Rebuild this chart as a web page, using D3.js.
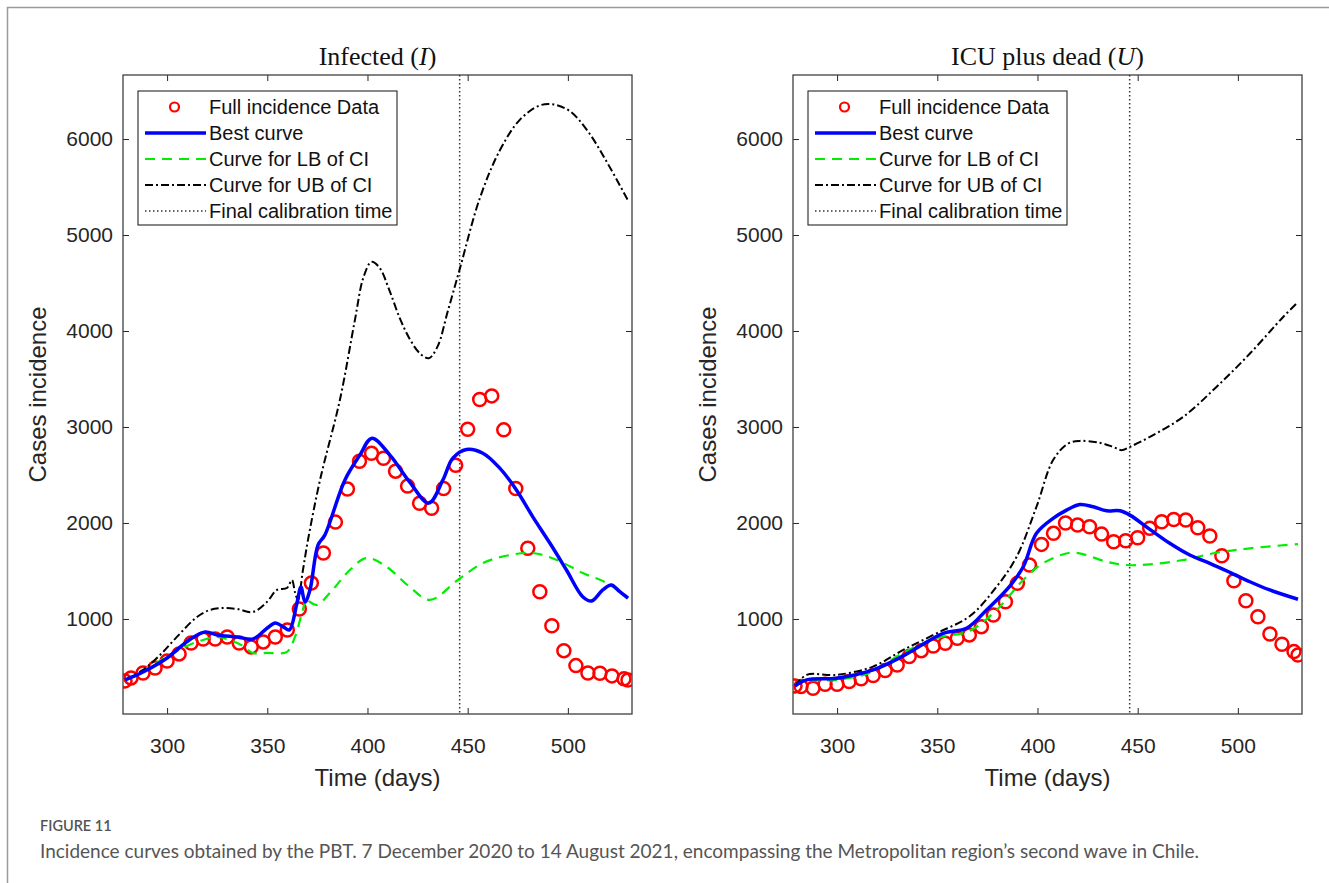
<!DOCTYPE html>
<html>
<head>
<meta charset="utf-8">
<script src="https://cdn.jsdelivr.net/npm/d3@7/dist/d3.min.js"></script>
<style>
  html, body { margin: 0; padding: 0; background: #fff; }
  svg { display: block; }
</style>
</head>
<body>
<svg id="chart" width="1329" height="883"></svg>
<script>
// ---------------- DATA ----------------
const dataDays = [279, 282, 288, 294, 300, 306, 312, 318, 324, 330, 336, 342, 348, 354, 360, 366, 372, 378, 384, 390, 396, 402, 408, 414, 420, 426, 432, 438, 444, 450, 456, 462, 468, 474, 480, 486, 492, 498, 504, 510, 516, 522, 528, 530];

const infectedData = [355, 386, 438, 490, 563, 636, 750, 792, 792, 813, 750, 709, 761, 813, 886, 1104, 1375, 1687, 2009, 2353, 2644, 2727, 2675, 2540, 2384, 2205, 2153, 2360, 2602, 2977, 3286, 3324, 2970, 2360, 1736, 1284, 930, 670, 514, 438, 435, 407, 376, 365];

const icuData = [303, 296, 279, 320, 320, 348, 376, 410, 462, 521, 608, 670, 719, 747, 799, 834, 920, 1042, 1180, 1371, 1562, 1777, 1892, 1999, 1978, 1960, 1884, 1804, 1815, 1846, 1944, 2013, 2037, 2030, 1950, 1864, 1659, 1399, 1190, 1024, 844, 737, 660, 625];

// curves: [day, value]
const infBest = [[279,365],[288,448],[300,594],[311,781],[319,865],[325,834],[335,813],[343,792],[350,906],[354,958],[358,917],[361,886],[364.8,1166],[366.8,1333],[368.8,1177],[371.3,1302],[375.3,1770],[378.7,1874],[388.7,2446],[396.2,2707],[402.2,2883],[411.2,2707],[421.1,2426],[430.6,2207],[437.6,2446],[442.6,2675],[449.4,2766],[457.6,2727],[466,2571],[474.4,2342],[482.5,2064],[491,1791],[499.3,1510],[507.4,1232],[511.8,1187],[517.4,1302],[521.7,1354],[525.9,1284],[530,1218]];

const infLB = [[279,365],[281.5,386],[301.4,625],[309.9,719],[317.9,781],[324.9,813],[331.4,781],[337.9,719],[342.8,646],[349.8,646],[359.8,657],[363.8,813],[367.3,1062],[369.8,1219],[371.3,1177],[374.8,1146],[381.2,1270],[391.2,1510],[399.7,1635],[409.7,1541],[421.1,1333],[431.1,1198],[445.1,1406],[457.6,1583],[471,1666],[482.5,1687],[494.5,1614],[507.4,1479],[519.4,1375],[530,1215]];

const infUB = [[279,365],[288,469],[296.5,625],[304.9,813],[314.9,1021],[321.4,1094],[327.9,1114],[334.9,1104],[342.8,1073],[349.8,1177],[354.8,1302],[359.8,1323],[362.3,1406],[363.8,1281],[365.3,1198],[367.8,1510],[370.3,1822],[376.3,2446],[386.2,3279],[393.7,4111],[398,4560],[402,4720],[406,4660],[411,4420],[416,4140],[421,3920],[426,3770],[430.6,3716],[435,3840],[440,4200],[446.1,4650],[456,5380],[466,5880],[476,6200],[486,6350],[493,6360],[501,6290],[510,6080],[520,5740],[530,5360]];

const icuBest = [[279,300],[284.8,365],[299.8,383],[318,469],[333,615],[353,851],[364.6,903],[374.6,1094],[386.2,1343],[392.9,1544],[399.5,1892],[407.8,2048],[414.5,2134],[421.1,2193],[427.8,2169],[434.5,2127],[441.1,2127],[446.1,2082],[456.1,1933],[466,1788],[476,1666],[486,1580],[496,1486],[506,1388],[515.9,1302],[530,1205]];

const icuLB = [[279,300],[281.5,348],[299.8,365],[316.4,441],[332.9,646],[349.7,799],[366.3,878],[379.6,1094],[392.9,1406],[402.7,1580],[416.2,1690],[422.6,1676],[434.5,1596],[444.4,1562],[456.1,1569],[472.5,1614],[489.3,1690],[506,1736],[530,1780]];

const icuUB = [[279,300],[284.8,417],[299.8,417],[317.9,504],[333,677],[349.7,851],[366.3,1031],[379.6,1336],[389.6,1648],[399.5,2169],[407.8,2655],[415.3,2828],[421.1,2855],[431.1,2835],[437.7,2793],[441.9,2759],[446.1,2793],[456.1,2897],[472.7,3105],[489.3,3417],[506,3765],[522.6,4146],[530,4302]];

const finalCalibrationTime = 446;
const xTicks = [300, 350, 400, 450, 500];
const yTicks = [1000, 2000, 3000, 4000, 5000, 6000];
const xDomain = [278, 532];
const yDomain = [10, 6667];
const legendLabels = ["Full incidence Data", "Best curve", "Curve for LB of CI", "Curve for UB of CI", "Final calibration time"];
const titles = ["Infected", "ICU plus dead"];
const titleVars = ["I", "U"];
const xLabel = "Time (days)";
const yLabel = "Cases incidence";
const figLabel = "FIGURE 11";
const caption = "Incidence curves obtained by the PBT. 7 December 2020 to 14 August 2021, encompassing the Metropolitan region\u2019s second wave in Chile.";

// ---------------- DRAW ----------------
const svg = d3.select("#chart");
const FONT = "'Liberation Sans', Arial, Helvetica, sans-serif";
const AX = "#262626";

// frame
svg.append("rect").attr("x", 7.5).attr("y", 7.5).attr("width", 1340).attr("height", 900)
  .attr("fill", "none").attr("stroke", "#9a9a9a").attr("stroke-width", 1.5);

const panels = [
  { x0: 123, x1: 632, data: infectedData, best: infBest, lb: infLB, ub: infUB },
  { x0: 793, x1: 1302, data: icuData, best: icuBest, lb: icuLB, ub: icuUB }
];
const Y0 = 75, Y1 = 714;
const fmt = d3.format("d");

panels.forEach((p, i) => {
  const x = d3.scaleLinear().domain(xDomain).range([p.x0, p.x1]);
  const y = d3.scaleLinear().domain(yDomain).range([Y1, Y0]);
  const g = svg.append("g");

  const clipId = "clip" + i;
  svg.append("clipPath").attr("id", clipId).append("rect")
    .attr("x", p.x0).attr("y", Y0).attr("width", p.x1 - p.x0).attr("height", Y1 - Y0);

  // axes
  const styleAxis = sel => {
    sel.select(".domain").remove();
    sel.selectAll(".tick line").attr("stroke", AX).attr("stroke-width", 1);
    sel.selectAll(".tick text").attr("fill", AX).style("font-family", FONT).style("font-size", "21px");
  };
  g.append("g").attr("transform", `translate(0,${Y1})`)
    .call(d3.axisBottom(x).tickValues(xTicks).tickFormat(fmt).tickSize(-6).tickPadding(24).tickSizeOuter(0))
    .call(styleAxis);
  g.append("g").attr("transform", `translate(0,${Y0})`)
    .call(d3.axisTop(x).tickValues(xTicks).tickSize(-6).tickFormat("").tickSizeOuter(0))
    .call(styleAxis);
  g.append("g").attr("transform", `translate(${p.x0},0)`)
    .call(d3.axisLeft(y).tickValues(yTicks).tickFormat(fmt).tickSize(-6).tickPadding(10).tickSizeOuter(0))
    .call(styleAxis);
  g.append("g").attr("transform", `translate(${p.x1},0)`)
    .call(d3.axisRight(y).tickValues(yTicks).tickSize(-6).tickFormat("").tickSizeOuter(0))
    .call(styleAxis);

  g.append("rect").attr("x", p.x0).attr("y", Y0).attr("width", p.x1 - p.x0).attr("height", Y1 - Y0)
    .attr("fill", "none").attr("stroke", "#404040").attr("stroke-width", 1.3);

  // labels
  g.append("text").attr("x", (p.x0 + p.x1) / 2).attr("y", 786).attr("text-anchor", "middle")
    .style("font-family", FONT).style("font-size", "24px").attr("fill", AX).text(xLabel);
  const ylx = p.x0 - 77;
  g.append("text").attr("transform", `translate(${ylx},${(Y0 + Y1) / 2}) rotate(-90)`)
    .attr("text-anchor", "middle").style("font-family", FONT).style("font-size", "24px").attr("fill", AX).text(yLabel);

  const t = g.append("text").attr("x", (p.x0 + p.x1) / 2).attr("y", 65).attr("text-anchor", "middle")
    .style("font-family", "'Liberation Serif', 'DejaVu Serif', serif").style("font-size", "26px").attr("fill", "#111");
  t.append("tspan").text(titles[i] + " (");
  t.append("tspan").style("font-style", "italic").text(titleVars[i]);
  t.append("tspan").text(")");

  const plot = g.append("g").attr("clip-path", `url(#${clipId})`);
  const line = d3.line().x(d => x(d[0])).y(d => y(d[1])).curve(d3.curveCatmullRom.alpha(0.5));

  // final calibration time
  plot.append("line").attr("x1", x(finalCalibrationTime)).attr("x2", x(finalCalibrationTime))
    .attr("y1", Y0).attr("y2", Y1).attr("stroke", "#333").attr("stroke-width", 1.5)
    .attr("stroke-dasharray", "1.5,2.5");

  // data circles
  plot.selectAll("circle.data").data(dataDays.map((d, k) => [d, p.data[k]])).join("circle")
    .attr("class", "data").attr("cx", d => x(d[0])).attr("cy", d => y(d[1])).attr("r", 6.5)
    .attr("fill", "none").attr("stroke", "#ff0000").attr("stroke-width", 2.5);

  plot.append("path").datum(p.lb).attr("d", line).attr("fill", "none")
    .attr("stroke", "#00ee00").attr("stroke-width", 2.2).attr("stroke-dasharray", "10,7");
  plot.append("path").datum(p.ub).attr("d", line).attr("fill", "none")
    .attr("stroke", "#000").attr("stroke-width", 2).attr("stroke-dasharray", "8,3,2,3");
  plot.append("path").datum(p.best).attr("d", line).attr("fill", "none")
    .attr("stroke", "#0000ff").attr("stroke-width", 3.5);

  // legend
  const lx = p.x0 + 15, ly = 91, lw = 259, lh = 134;
  const lg = g.append("g");
  lg.append("rect").attr("x", lx).attr("y", ly).attr("width", lw).attr("height", lh)
    .attr("fill", "#fff").attr("stroke", "#262626").attr("stroke-width", 1.1);
  const rowY = [107, 133, 159, 185, 211];
  const sx0 = lx + 7, sx1 = lx + 68;
  legendLabels.forEach((lab, k) => {
    const cy = rowY[k];
    if (k === 0) {
      lg.append("circle").attr("cx", (sx0 + sx1) / 2 - 1).attr("cy", cy).attr("r", 4.5)
        .attr("fill", "none").attr("stroke", "#ff0000").attr("stroke-width", 2.2);
    } else if (k === 1) {
      lg.append("line").attr("x1", sx0).attr("x2", sx1).attr("y1", cy).attr("y2", cy)
        .attr("stroke", "#0000ff").attr("stroke-width", 3.5);
    } else if (k === 2) {
      lg.append("line").attr("x1", sx0).attr("x2", sx1).attr("y1", cy).attr("y2", cy)
        .attr("stroke", "#00ee00").attr("stroke-width", 2.2).attr("stroke-dasharray", "10,7");
    } else if (k === 3) {
      lg.append("line").attr("x1", sx0).attr("x2", sx1).attr("y1", cy).attr("y2", cy)
        .attr("stroke", "#000").attr("stroke-width", 2).attr("stroke-dasharray", "8,3,2,3");
    } else {
      lg.append("line").attr("x1", sx0).attr("x2", sx1).attr("y1", cy).attr("y2", cy)
        .attr("stroke", "#333").attr("stroke-width", 1.5).attr("stroke-dasharray", "1.5,2.5");
    }
    lg.append("text").attr("x", lx + 71).attr("y", cy + 7)
      .style("font-family", FONT).style("font-size", "20px").attr("fill", "#111").text(lab);
  });
});

// caption
svg.append("text").attr("x", 40).attr("y", 831)
  .style("font-family", "Lato, 'Open Sans', sans-serif").style("font-size", "14.5px")
  .style("font-weight", "600").attr("fill", "#555").text(figLabel);
svg.append("text").attr("x", 40).attr("y", 858)
  .style("font-family", "Lato, 'Open Sans', sans-serif").style("font-size", "19px")
  .attr("fill", "#555").text(caption);
</script>
</body>
</html>
